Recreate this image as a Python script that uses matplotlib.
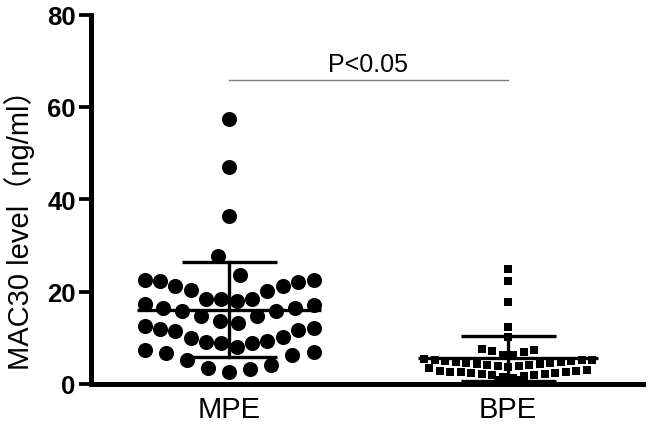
import numpy as np
import matplotlib
matplotlib.use("Agg")
import matplotlib.pyplot as plt

# ---------------- data ----------------
groups = ["MPE", "BPE"]
mpe_values = [57.4, 46.9, 36.4, 27.8, 23.7,
              22.6, 22.2, 21.2, 20.3, 18.3, 18.3, 17.9, 18.4, 20.1, 21.2, 22.0, 22.6,
              17.2, 16.4, 15.9, 14.8, 13.3, 13.7, 14.8, 15.9, 16.4, 17.3,
              12.5, 11.9, 11.4, 9.9, 9.1, 8.8, 8.0, 8.8, 9.4, 10.2, 11.6, 12.1,
              7.4, 6.7, 5.2, 3.4, 2.7, 3.2, 4.1, 6.3, 7.0]
bpe_values = [25.0, 22.4, 17.8, 12.4, 10.2,
              6.2, 6.3, 6.9, 7.2, 7.4, 7.6,
              3.4, 3.6, 3.8, 4.0, 4.1, 4.2, 4.3, 4.4, 4.5, 4.6, 4.7, 4.8, 4.9, 5.0,
              5.1, 5.2, 5.3, 5.4,
              1.3, 1.5, 1.7, 1.9, 2.0, 2.1, 2.2, 2.3, 2.4, 2.5, 2.6, 2.7, 2.8, 2.9, 3.0,
              0.6, 0.8, 0.9]
means = [16.1, 5.6]
sds = [10.25, 4.9]
y_ticks = [0, 20, 40, 60, 80]
p_text = "P<0.05"
p_level = 65.9

# ---------------- figure ----------------
W, H = 650, 427
fig = plt.figure(figsize=(W / 100, H / 100), dpi=100)
ax = fig.add_axes([91 / W, 42 / H, (643 - 91) / W, (411.5 - 42) / H])

font = "Liberation Sans"
PX_PER_UNIT_X = 279.0  # horizontal pixels between the two groups


def swarm_offsets(vals, bin0, bin_w, max_sp_px, width_px):
    vals = np.asarray(vals, dtype=float)
    offs = np.zeros_like(vals)
    bins = np.floor((vals - bin0) / bin_w).astype(int)
    for b in np.unique(bins):
        idx = np.where(bins == b)[0]
        idx = idx[np.argsort(vals[idx], kind="stable")]
        n = len(idx)
        if n == 1:
            continue
        sp = min(max_sp_px, width_px / (n - 1))
        slots = (np.arange(n) - (n - 1) / 2) * sp
        order = sorted(slots, key=lambda s: (round(abs(s), 6), -s))
        for i, s in zip(idx, order):
            offs[i] = s
    return offs / PX_PER_UNIT_X


mpe_off = swarm_offsets(mpe_values, 2.5, 5.1, 22.7, 169)
bpe_off = swarm_offsets(bpe_values, 1.0, 2.45, 10.5, 178)

ax.scatter(0 + mpe_off, mpe_values, s=118, marker="o", color="black",
           linewidths=0, zorder=3)
ax.scatter(1 + bpe_off, bpe_values, s=36, marker="s", color="black",
           linewidths=0, zorder=3)

# mean and SD bars
mean_half = [92 / PX_PER_UNIT_X, 90 / PX_PER_UNIT_X]
cap_half = 47.5 / PX_PER_UNIT_X
for i, (m, sd) in enumerate(zip(means, sds)):
    ax.plot([i - mean_half[i], i + mean_half[i]], [m, m], color="black",
            lw=2.4, solid_capstyle="butt", zorder=4)
    ax.plot([i, i], [m - sd, m + sd], color="black", lw=2.4, zorder=4)
    for yy in (m - sd, m + sd):
        ax.plot([i - cap_half, i + cap_half], [yy, yy], color="black",
                lw=2.4, solid_capstyle="butt", zorder=4)

# significance line
ax.plot([0, 1], [p_level, p_level], color="#7f7f7f", lw=1.0, zorder=2)
ax.text(0.5, p_level + 0.7, p_text, ha="center", va="bottom",
        fontsize=18, family=font, color="black")

# axes styling
ax.set_xlim(-(229 - 91) / PX_PER_UNIT_X, (643 - 229) / PX_PER_UNIT_X)
ax.set_ylim(0, 80)
for side in ("top", "right"):
    ax.spines[side].set_visible(False)
for side in ("left", "bottom"):
    ax.spines[side].set_linewidth(3.6)
ax.set_yticks(y_ticks)
ax.set_yticklabels([str(t) for t in y_ticks], fontsize=18.5,
                   fontweight="bold", family=font)
ax.tick_params(axis="y", length=9, width=2.7, pad=2)
ax.set_xticks([0, 1])
ax.set_xticklabels(groups, fontsize=21, family=font)
ax.tick_params(axis="x", length=0, pad=8)

ax.set_ylabel("MAC30 level（ng/ml）", fontsize=21,
              family=[font, "Noto Sans CJK SC"])
ax.yaxis.set_label_coords(-0.102, 0.44)

fig.savefig("out.png", dpi=100)
